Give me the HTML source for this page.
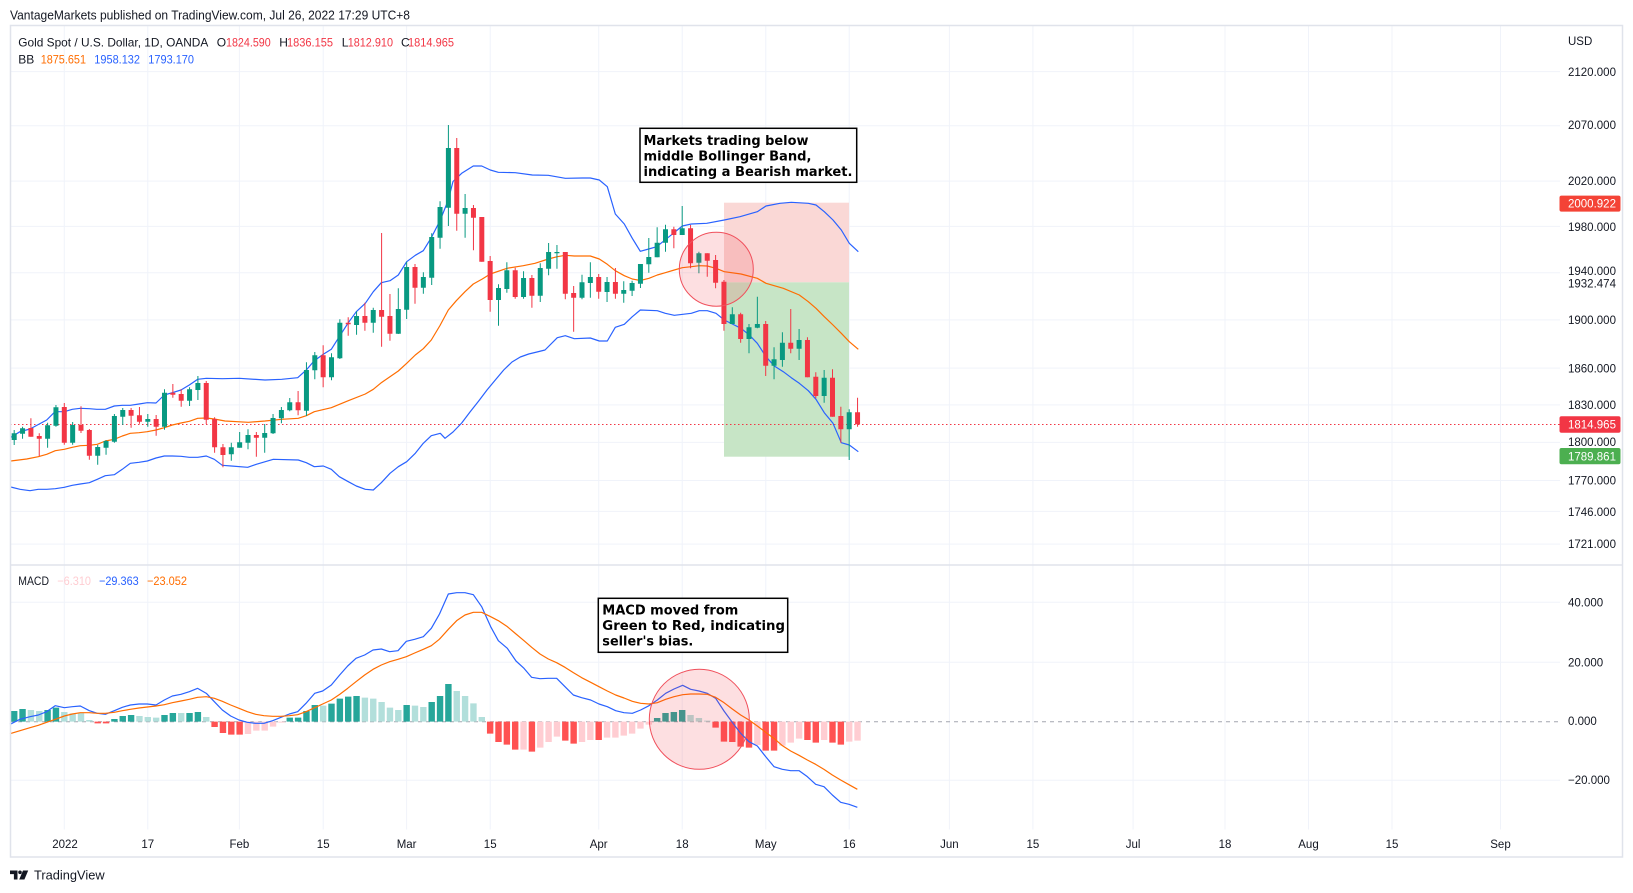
<!DOCTYPE html>
<html><head><meta charset="utf-8"><style>
html,body{margin:0;padding:0;background:#fff;overflow:hidden}
svg{display:block}
</style></head><body>
<svg width="1633" height="893" viewBox="0 0 1633 893" xmlns="http://www.w3.org/2000/svg" font-family="'Liberation Sans', Arial, sans-serif">
<rect x="0" y="0" width="1633" height="893" fill="#fff"/>
<!-- header -->
<text x="10" y="19.5" font-size="13" fill="#131722" textLength="400" lengthAdjust="spacingAndGlyphs">VantageMarkets published on TradingView.com, Jul 26, 2022 17:29 UTC+8</text>

<!-- grid vertical -->
<g stroke="#F0F3FA" stroke-width="1">
<path d="M64.3 26V829.5M147.8 26V829.5M239.4 26V829.5M323.2 26V829.5M406.6 26V829.5M490.2 26V829.5M598.7 26V829.5M682.2 26V829.5M765.8 26V829.5M849.2 26V829.5M949.4 26V829.5M1032.9 26V829.5M1133.1 26V829.5M1225 26V829.5M1308.5 26V829.5M1392 26V829.5M1500.5 26V829.5"/>
<path d="M10 71.6H1560M10 125.7H1560M10 181.1H1560M10 226.4H1560M10 272.7H1560M10 319.9H1560M10 368.1H1560M10 404.9H1560M10 442.4H1560M10 480.5H1560M10 511.4H1560M10 544.1H1560"/>
<path d="M10 602.3H1560M10 662.3H1560M10 780.3H1560"/>
</g>
<!-- zero dashed -->
<path d="M10 721.7H1560" stroke="#A3A6AF" stroke-width="1" stroke-dasharray="4 4"/>

<!-- position zones -->
<rect x="724" y="202.7" width="125" height="79.6" fill="#FAD8D6"/>
<rect x="724" y="282.3" width="125" height="174.4" fill="#C7E5C6"/>

<!-- last price dotted -->
<path d="M10 424.5H1560" stroke="#F23645" stroke-width="1" stroke-dasharray="1.5 2.5"/>

<!-- Bollinger Bands -->
<g fill="none" stroke-width="1.2" stroke-linejoin="round">
<polyline stroke="#2962FF" points="10.7,437.3 20,431.7 30,429 46.7,420 55,411.7 64.3,411.7 72.3,409.3 80.3,408.3 89.3,408.7 96.7,409.3 105.3,409.3 114.3,406 122.3,405.3 130.3,405.3 139,404 147.3,402.7 156,403 164.3,395 172.3,392.7 181,390 189.3,385 197.7,379.3 206.3,378.3 222.3,378.7 239.3,378.3 265,380 281.7,379.3 297.7,377.7 306.3,370 314.3,360.7 323.3,354.3 331.3,349.3 339.3,336.7 348.3,322.7 356.3,311.7 365.3,303.3 373.3,291.7 381.3,282.7 390,280.7 398.3,275 406.7,261.7 415.3,255.3 423.3,250.7 431.3,237.7 440.3,220 448.3,200 453,181.5 461.7,173.3 473.3,166 481.7,166 490.3,170 498.3,172.3 515.3,172.7 532.3,175 548.3,175.3 565.3,178.3 582.3,178 590.3,178 599.3,180 607.3,186.7 615.3,214 624.3,224 632.3,238.3 640.3,251.3 648.7,249 656.7,246.7 673.3,233.3 682.3,226 691.3,224 706.7,223.3 724.3,220 740,216.7 757.3,211.7 766,206 780,203.3 791.3,202.3 808.3,203.3 816,205 824.3,211.7 833,220 841.3,230 849.3,243.3 858.3,251.7"/>
<polyline stroke="#FF6D00" points="10.7,461 26.7,459 38.3,456.7 46.7,454.3 55.3,450.7 64.3,449.3 72.3,447.3 80.3,445.7 89.3,445.3 97.3,444.3 105.3,441 114.3,439.3 122.3,436 130.3,433.3 139,432.7 147.3,431.7 156,430 164.3,427.7 172.3,425 181,423 189.3,421.3 197.7,418.3 206.3,418 214.3,419 225,421 248.3,422.3 265,421 281.7,419.3 298.3,418.3 306.3,415.7 314.3,411.7 331.3,407.7 348.3,400.7 365.3,394 373.3,389.3 381.3,382.7 398.3,371 406.7,363.3 415.3,355 423.3,348.7 431.3,340 440,325.5 448.3,310 456.3,300.7 465,291.7 473.3,284 482.3,279 490.3,274 507,268.3 523.3,265.7 535,263.3 548.3,259 557.3,256.7 565.3,255.3 574.3,256 590.3,256 599.3,259 607.3,264.3 615.3,270.7 624.3,275.7 632.3,279 640.3,280.5 649,278.3 657.3,275 665.3,272.7 674.3,270 682.3,267.7 691.3,266.7 699.3,265.7 707.3,266 716,268.3 724.3,271.7 741,274 757.3,278.3 766,283.3 783.3,288.3 799.3,295 808.3,301.7 816,308.3 824.3,316.7 833,325 841.3,333.3 849.3,341.7 858.3,349.3"/>
<polyline stroke="#2962FF" points="10.7,487 20,489.3 30,490.7 38.3,489.3 46.7,489.3 55.3,488.7 64.3,487.3 72.3,485.3 80.3,484 89.3,482.7 97.3,479.3 105.3,475.7 114.3,474.7 122.3,469.3 130.3,463.3 139,462.3 147.3,461 156,458 164.3,456 172.3,456 181,456.3 189.3,457.3 197.7,457.3 206.3,456 214.3,459.3 222.3,465.3 231.3,466 247.7,467.3 256.3,464.3 273.3,459.3 298.3,460 306.3,462.7 314.3,466.7 323.3,466 331.3,469.3 339.3,476.7 348.3,481.7 356.3,486 365.3,489.3 373.3,490 381.3,482.7 390,473.3 398.3,466.7 406.7,461.7 415.3,453.3 423.3,443.3 431.3,435.7 440.3,433.3 445,438.3 453,432 461.7,423 470,412 478.7,401 487,390 495.3,380 503.7,370 512,362 520.3,357 528.7,354 537,352 545,350 557.3,337.7 565.3,335.7 574.3,338.7 590.3,338 599.3,341 607.3,341 615.3,327.3 624.3,324.3 632.3,316.7 640.3,310 657.3,310.7 665.3,313.3 674.3,315.3 691.3,313.3 699.3,310.7 707.3,310.7 716,313.3 724.3,320 732.3,324 741,328.3 749.3,335 757.3,343.3 766,356.7 774.3,366 783.3,371.7 791.3,377.7 799.3,383.3 808.3,390.7 816,399.3 824.3,412.7 833,423.3 841.3,442.7 849.3,445 858.3,451.7"/>
</g>

<!-- candles -->
<g fill="none">
<path stroke="#089981" stroke-width="1" d="M14.2 430V445 M22.55 426.7V438.7 M47.6 422.7V447.7 M55.95 405V426.7 M72.65 422V444.7 M97.7 445V464.7 M106.05 440V454.7 M114.4 414V442.7 M122.75 408V425 M147.8 414V426.7 M164.5 389.3V429.7 M189.55 387.3V406 M197.9 376V400 M231.3 442.7V460.7 M239.65 432V447.7 M248 429.3V449.3 M264.7 424V452.7 M273.05 414V434 M281.4 407V423.3 M289.75 398V411.3 M306.45 362.3V416 M314.8 352V379.3 M331.5 353.3V380.3 M339.85 319.3V359 M356.55 311.3V334.7 M373.25 307.7V332.7 M398.3 288.3V334 M406.65 261.7V319 M423.35 272.3V293.7 M431.7 233.3V285 M440.05 201.3V248.7 M448.4 125V226 M465.1 194V237.7 M498.5 284.3V325.7 M506.85 262.3V292.7 M523.55 271.3V298.7 M540.25 263.3V302 M548.6 243V275.3 M556.95 245V268.7 M582 274.7V299.3 M590.35 262.3V297.7 M607.05 277V302 M623.75 281.3V302.7 M632.1 280.7V296 M640.45 264V288 M648.8 238V272.7 M657.15 227.3V257.3 M665.5 224.7V251.7 M682.2 206V235 M698.9 251.7V273.3 M732.3 307.3V324 M749 324V353.3 M757.35 296.7V328.3 M774.05 347.3V379.3 M782.4 332.3V366.7 M799.1 329V360 M824.15 370V402.7 M849.2 409.3V460"/>
<path stroke="#089981" stroke-width="5" d="M14.2 433.3V440 M22.55 428.3V433.7 M47.6 425.3V438.7 M55.95 407.3V425.7 M72.65 425V442.7 M97.7 447V455.7 M106.05 441V447.7 M114.4 416V441.7 M122.75 410V416.7 M147.8 419V421.7 M164.5 392.7V426.7 M189.55 389.3V400.7 M197.9 383V390 M231.3 447.3V454.3 M239.65 442.3V447.7 M248 435V442.7 M264.7 433V437.7 M273.05 418V433.3 M281.4 410V418.3 M289.75 402.3V410.3 M306.45 370V410.7 M314.8 355.3V370.3 M331.5 357.3V377.3 M339.85 322.7V358.3 M356.55 316V325 M373.25 310V322.7 M398.3 309V333.7 M406.65 267V309.7 M423.35 277V287.7 M431.7 237V277.7 M440.05 207V237.7 M448.4 148V207.7 M465.1 208V213.7 M498.5 288V300 M506.85 270.3V289 M523.55 278V297 M540.25 268V295.7 M548.6 252V268.7 M556.95 252V253.2 M582 282.3V297.7 M590.35 277V283 M607.05 282V292 M623.75 290V293.7 M632.1 283V290.7 M640.45 264V283.7 M648.8 257V264.3 M657.15 242.7V257.3 M665.5 229.3V242.7 M682.2 228.3V235 M698.9 253.3V262.7 M732.3 314.3V324 M749 327.3V339 M757.35 324V327.7 M774.05 359.3V365.7 M782.4 342.7V360 M799.1 340V348.7 M824.15 377.7V396 M849.2 412.3V429.3"/>
<path stroke="#F23645" stroke-width="1" d="M30.9 418.3V436.7 M39.25 433.3V456 M64.3 403V444.7 M81 406.3V433 M89.35 429V459.7 M131.1 408V427.7 M139.45 407V423.7 M156.15 415V435.7 M172.85 384V397.7 M181.2 389.3V406.7 M206.25 381V424 M214.6 417.3V452.7 M222.95 444V467.3 M256.35 432V456.7 M298.1 391V415.3 M323.15 345.3V387.3 M348.2 317.3V335.7 M364.9 302.7V330.7 M381.6 233V346.7 M389.95 294V340.7 M415 264V303.7 M456.75 138V230.7 M473.45 205V250.3 M481.8 217V261.7 M490.15 256V311.7 M515.2 267.7V298.7 M531.9 275V307.7 M565.3 252V299.3 M573.65 286V331.7 M598.7 274V298.7 M615.4 268V298.7 M673.85 226.7V248.3 M690.55 225V268.3 M707.25 253.3V276.7 M715.6 255V288.3 M723.95 280V330.7 M740.65 312.7V342.7 M765.7 321V376 M790.75 309V353.3 M807.45 337.3V377.3 M815.8 372.3V398.3 M832.5 369.3V416.7 M840.85 406.7V442.7 M857.55 397.7V426.7"/>
<path stroke="#F23645" stroke-width="5" d="M30.9 428V436.7 M39.25 436V438.7 M64.3 407V442.7 M81 425V430.7 M89.35 430V455.7 M131.1 410V415.7 M139.45 415.3V421.7 M156.15 419V426.7 M172.85 392.7V394.7 M181.2 394V400.7 M206.25 383V419.7 M214.6 419V447.3 M222.95 447.3V455 M256.35 435V437.7 M298.1 402.3V410.3 M323.15 355.3V377.3 M348.2 322.7V324.3 M364.9 316V322.7 M381.6 310V316.7 M389.95 316V333.7 M415 267V287.7 M456.75 148V213.7 M473.45 208V217.7 M481.8 217V261.7 M490.15 261V300 M515.2 270.3V297 M531.9 278V295.7 M565.3 252V293.7 M573.65 293V297.7 M598.7 277V291.7 M615.4 282V293.7 M673.85 229.3V235 M690.55 228.3V263.3 M707.25 253.3V260.7 M715.6 260V282.7 M723.95 281.7V324 M740.65 314.3V339 M765.7 324V365.7 M790.75 342.7V348.7 M807.45 340V377.3 M815.8 376.7V396 M832.5 377.7V416.7 M840.85 416V429.3 M857.55 412.3V424.3"/>
</g>

<!-- circle 1 -->
<circle cx="716.3" cy="269.2" r="37" fill="rgba(242,54,69,0.16)" stroke="#F0505C" stroke-width="1"/>

<!-- annotation 1 -->
<rect x="640" y="128.3" width="216.7" height="54" fill="#fff" stroke="#000" stroke-width="1.5"/>
<g font-family="'DejaVu Sans', 'Liberation Sans', sans-serif" font-weight="bold" font-size="13.5" fill="#000">
<text x="643.5" y="145" textLength="165" lengthAdjust="spacingAndGlyphs">Markets trading below</text>
<text x="643.5" y="160.7" textLength="168" lengthAdjust="spacingAndGlyphs">middle Bollinger Band,</text>
<text x="643.5" y="176" textLength="209" lengthAdjust="spacingAndGlyphs">indicating a Bearish market.</text>
</g>

<!-- legend -->
<g font-size="12" fill="#131722">
<text x="18.3" y="46.5" textLength="190" lengthAdjust="spacingAndGlyphs">Gold Spot / U.S. Dollar, 1D, OANDA</text>
<text x="216.7" y="46.5">O</text>
<text x="226" y="46.5" fill="#F23645" textLength="44.7" lengthAdjust="spacingAndGlyphs">1824.590</text>
<text x="279.3" y="46.5">H</text>
<text x="287" y="46.5" fill="#F23645" textLength="46" lengthAdjust="spacingAndGlyphs">1836.155</text>
<text x="341.7" y="46.5">L</text>
<text x="347.7" y="46.5" fill="#F23645" textLength="45.3" lengthAdjust="spacingAndGlyphs">1812.910</text>
<text x="401" y="46.5">C</text>
<text x="408" y="46.5" fill="#F23645" textLength="46" lengthAdjust="spacingAndGlyphs">1814.965</text>
<text x="18.3" y="63.3">BB</text>
<text x="40.7" y="63.3" fill="#FF6D00" textLength="45.3" lengthAdjust="spacingAndGlyphs">1875.651</text>
<text x="94.3" y="63.3" fill="#2962FF" textLength="45.7" lengthAdjust="spacingAndGlyphs">1958.132</text>
<text x="148.3" y="63.3" fill="#2962FF" textLength="45.7" lengthAdjust="spacingAndGlyphs">1793.170</text>
</g>

<!-- pane separator -->
<path d="M10 565H1623" stroke="#E0E3EB" stroke-width="1.5"/>

<!-- MACD histogram -->
<g transform="translate(0,560) scale(1,0.333333)" fill="none" stroke-width="6.4">
<path stroke="#26A69A" d="M14.2 485V453 M22.55 485V447 M47.6 485V450 M55.95 485V443 M114.4 485V477 M122.75 485V468 M131.1 485V465 M164.5 485V465 M172.85 485V459 M189.55 485V459 M197.9 485V456 M289.75 485V473 M298.1 485V473 M306.45 485V453 M314.8 485V435 M331.5 485V431 M339.85 485V416 M348.2 485V410 M356.55 485V408 M406.65 485V435 M431.7 485V426 M440.05 485V408 M448.4 485V372 M657.15 485V474 M665.5 485V459 M673.85 485V456 M682.2 485V450"/>
<path stroke="#B2DFDB" d="M30.9 485V450 M39.25 485V453 M64.3 485V456 M72.65 485V460 M81 485V459 M89.35 485V480 M139.45 485V468 M147.8 485V471 M156.15 485V473 M181.2 485V459 M206.25 485V471 M323.15 485V437 M364.9 485V413 M373.25 485V416 M381.6 485V426 M389.95 485V443 M398.3 485V450 M415 485V437 M423.35 485V441 M456.75 485V393 M465.1 485V408 M473.45 485V430 M481.8 485V471 M690.55 485V465 M698.9 485V474 M707.25 485V482"/>
<path stroke="#FF5252" d="M97.7 485V490 M106.05 485V490 M214.6 485V501 M222.95 485V519 M231.3 485V524 M239.65 485V524 M490.15 485V521 M498.5 485V546 M506.85 485V554 M515.2 485V569 M531.9 485V575 M565.3 485V542 M573.65 485V551 M598.7 485V540 M715.6 485V503 M723.95 485V545 M732.3 485V546 M740.65 485V560 M749 485V563 M765.7 485V572 M774.05 485V572 M807.45 485V540 M815.8 485V548 M832.5 485V548 M840.85 485V554"/>
<path stroke="#FFCDD2" d="M248 485V522 M256.35 485V512 M264.7 485V512 M273.05 485V500 M281.4 485V488 M523.55 485V569 M540.25 485V563 M548.6 485V546 M556.95 485V530 M582 485V546 M590.35 485V540 M607.05 485V533 M615.4 485V533 M623.75 485V527 M632.1 485V521 M640.45 485V506 M648.8 485V494 M757.35 485V555 M782.4 485V557 M790.75 485V548 M799.1 485V536 M824.15 485V540 M849.2 485V545 M857.55 485V542"/>
</g>

<!-- MACD lines -->
<g transform="translate(0,560) scale(0.333333)" fill="none" stroke-linejoin="round">
<polyline vector-effect="non-scaling-stroke" stroke="#2962FF" stroke-width="1.2" points="30,493 60,478 90,470 115,465 140,455 166,437 193,443 217,440 241,438 268,452 292,460 316,463 343,452 367,442 391,435 417,432 442,432 468,435 493,420 517,408 543,403 568,395 593,385 619,400 643,425 667,450 692,468 717,480 742,487 767,490 792,490 818,482 843,472 868,462 893,455 918,430 944,400 968,393 994,375 1019,345 1043,318 1068,295 1094,285 1119,270 1144,267 1169,275 1194,272 1219,244 1244,238 1270,230 1294,205 1318,163"/>
<polyline vector-effect="non-scaling-stroke" stroke="#FF6D00" stroke-width="1.2" points="30,521 60,512 90,503 115,496 140,487 166,478 193,468 217,462 241,458 268,458 292,460 316,460 343,457 367,452 391,448 417,444 442,441 468,438 493,434 517,428 543,423 568,418 593,412 619,410 643,415 667,424 692,435 717,445 742,455 767,463 792,467 818,469 843,469 868,467 893,464 918,455 944,443 968,432 994,420 1019,403 1043,385 1068,365 1094,345 1119,328 1144,315 1169,305 1194,298 1219,290 1244,279 1270,268 1294,257 1318,238"/>
</g>
<g transform="translate(430,560) scale(0.333333)" fill="none" stroke-linejoin="round">
<polyline vector-effect="non-scaling-stroke" stroke="#2962FF" stroke-width="1.2" points="28,163 55,102 80,98 105,98 130,104 155,140 182,200 205,242 232,265 258,303 282,325 305,352 330,356 355,355 380,355 405,380 430,405 455,413 482,420 507,432 532,440 557,452 582,458 607,460 632,450 657,437 682,420 707,400 732,387 758,376 782,388 807,393 832,400 857,415 882,453 907,487 932,520 957,545 982,558 1007,590 1032,620 1057,628 1082,632 1107,632 1132,650 1157,673 1182,680 1207,705 1232,727 1257,733 1282,742"/>
<polyline vector-effect="non-scaling-stroke" stroke="#FF6D00" stroke-width="1.2" points="28,238 55,208 80,182 105,165 130,157 155,157 182,170 205,182 232,200 258,222 282,242 305,262 330,282 355,297 380,308 405,322 430,338 455,353 482,367 507,380 532,393 557,405 582,414 607,424 632,430 657,432 682,428 707,418 732,410 758,404 782,402 807,402 832,403 857,412 882,428 907,447 932,465 957,480 982,498 1007,517 1032,535 1057,557 1082,573 1107,586 1132,600 1157,613 1182,628 1207,645 1232,660 1257,674 1282,688"/>
</g>

<!-- circle 2 -->
<circle cx="699.3" cy="719.3" r="50" fill="rgba(242,54,69,0.16)" stroke="#F0505C" stroke-width="1"/>

<!-- annotation 2 -->
<rect x="598.3" y="598.3" width="189.4" height="54" fill="#fff" stroke="#000" stroke-width="1.5"/>
<g font-family="'DejaVu Sans', 'Liberation Sans', sans-serif" font-weight="bold" font-size="13.5" fill="#000">
<text x="602.3" y="614.5" textLength="136" lengthAdjust="spacingAndGlyphs">MACD moved from</text>
<text x="602.3" y="630" textLength="182.7" lengthAdjust="spacingAndGlyphs">Green to Red, indicating</text>
<text x="602.3" y="645.5" textLength="91" lengthAdjust="spacingAndGlyphs">seller's bias.</text>
</g>

<!-- MACD legend -->
<g font-size="12">
<text x="18.3" y="585" fill="#131722" textLength="30.7" lengthAdjust="spacingAndGlyphs">MACD</text>
<text x="57.3" y="585" fill="#FFCDD2" textLength="33.7" lengthAdjust="spacingAndGlyphs">−6.310</text>
<text x="99" y="585" fill="#2962FF" textLength="39.7" lengthAdjust="spacingAndGlyphs">−29.363</text>
<text x="147" y="585" fill="#FF6D00" textLength="40" lengthAdjust="spacingAndGlyphs">−23.052</text>
</g>

<!-- price axis -->
<g font-size="11.5" fill="#131722">
<text x="1568" y="44.8">USD</text>
<text x="1568" y="75.8">2120.000</text>
<text x="1568" y="129.2">2070.000</text>
<text x="1568" y="185.2">2020.000</text>
<text x="1568" y="230.8">1980.000</text>
<text x="1568" y="275.2">1940.000</text>
<text x="1568" y="324">1900.000</text>
<text x="1568" y="372.6">1860.000</text>
<text x="1568" y="409.2">1830.000</text>
<text x="1568" y="446">1800.000</text>
<text x="1568" y="484.4">1770.000</text>
<text x="1568" y="515.8">1746.000</text>
<text x="1568" y="548.1">1721.000</text>
<text x="1568" y="606.5">40.000</text>
<text x="1568" y="666.5">20.000</text>
<text x="1568" y="724.9">0.000</text>
<text x="1568" y="784.2">−20.000</text>
</g>
<rect x="1559.5" y="276.3" width="61" height="15" fill="#fff"/>
<text x="1568" y="287.6" font-size="11.5" fill="#131722">1932.474</text>
<rect x="1559.5" y="195.6" width="61" height="16" rx="2" fill="#F44336"/>
<text x="1568" y="207.7" font-size="11.5" fill="#fff">2000.922</text>
<rect x="1559.5" y="416.3" width="61" height="16.4" rx="2" fill="#F23645"/>
<text x="1568" y="428.7" font-size="11.5" fill="#fff">1814.965</text>
<rect x="1559.5" y="448" width="61" height="16.3" rx="2" fill="#4CAF50"/>
<text x="1568" y="460.4" font-size="11.5" fill="#fff">1789.861</text>

<!-- time axis -->
<g font-size="11.5" fill="#131722" text-anchor="middle">
<text x="65" y="847.8">2022</text>
<text x="147.8" y="847.8">17</text>
<text x="239.4" y="847.8">Feb</text>
<text x="323.2" y="847.8">15</text>
<text x="406.6" y="847.8">Mar</text>
<text x="490.2" y="847.8">15</text>
<text x="598.7" y="847.8">Apr</text>
<text x="682.2" y="847.8">18</text>
<text x="765.8" y="847.8">May</text>
<text x="849.2" y="847.8">16</text>
<text x="949.4" y="847.8">Jun</text>
<text x="1032.9" y="847.8">15</text>
<text x="1133.1" y="847.8">Jul</text>
<text x="1225" y="847.8">18</text>
<text x="1308.5" y="847.8">Aug</text>
<text x="1392" y="847.8">15</text>
<text x="1500.5" y="847.8">Sep</text>
</g>

<!-- frame -->
<rect x="10.5" y="25.5" width="1612" height="831.5" fill="none" stroke="#E0E3EB" stroke-width="1.5"/>

<!-- TradingView logo -->
<g fill="#131722">
<path d="M10 870.5h7.5v9h-3.6v-5.4H10z"/>
<circle cx="20" cy="872.3" r="1.8"/>
<path d="M23 870.5h5.2l-3.8 9h-5.2z"/>
</g>
<text x="34" y="879.5" font-size="13" fill="#131722" textLength="70.6" lengthAdjust="spacingAndGlyphs">TradingView</text>
</svg>
</body></html>
